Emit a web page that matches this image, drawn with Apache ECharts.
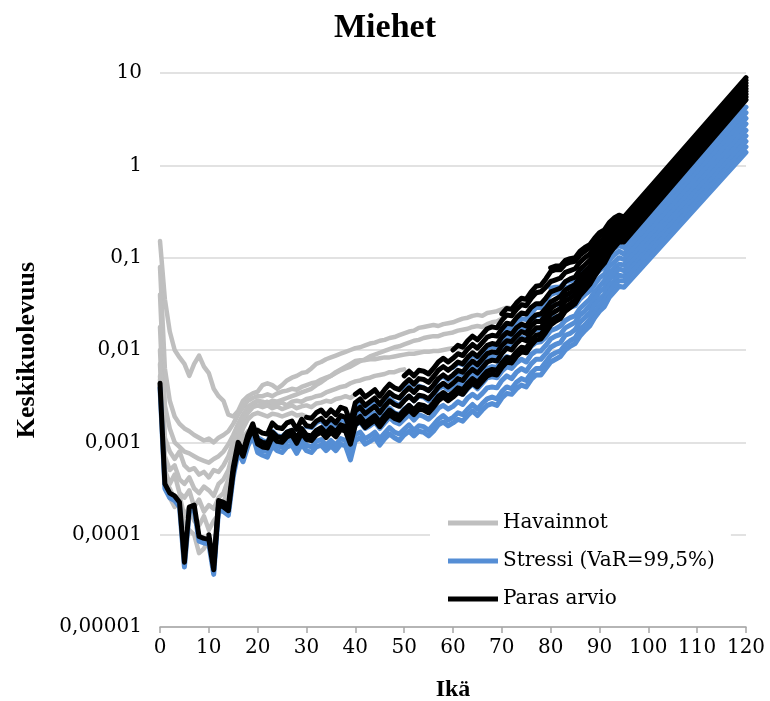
<!DOCTYPE html>
<html>
<head>
<meta charset="utf-8">
<title>Miehet – keskikuolevuus</title>
<script src="https://cdn.jsdelivr.net/npm/echarts@6/dist/echarts.min.js"></script>
<style>
  html, body { margin: 0; padding: 0; background: #fff; }
  #chart { width: 770px; height: 701px; }
</style>
</head>
<body>
<div id="chart"></div>
<script>
// Male central death rates by age, stored as log10 values.
// Each cohort: observed rates (grey) up to its current age, then the
// best-estimate projection (black) and the 99.5% VaR stress (blue) to age 120.

const cohortYears = [1935, 1945, 1955, 1965, 1975, 1985, 1995, 2005, 2015];
const startAges   = [80, 70, 60, 50, 40, 30, 20, 10, 0];

// observed, from age 0
const obs1935 = [-0.82,-1.45,-1.80,-2.00,-2.08,-2.15,-2.28,-2.15,-2.06,-2.18,
  -2.25,-2.42,-2.50,-2.55,-2.70,-2.72,-2.66,-2.55,-2.50,-2.47,
  -2.45,-2.38,-2.36,-2.38,-2.42,-2.38,-2.33,-2.30,-2.28,-2.25,
  -2.24,-2.20,-2.15,-2.13,-2.10,-2.08,-2.06,-2.04,-2.02,-2.00,
  -1.98,-1.97,-1.95,-1.93,-1.92,-1.90,-1.89,-1.87,-1.86,-1.84,
  -1.82,-1.80,-1.79,-1.76,-1.75,-1.74,-1.73,-1.74,-1.72,-1.71,
  -1.70,-1.68,-1.66,-1.65,-1.63,-1.62,-1.63,-1.60,-1.59,-1.58,
  -1.56,-1.54,-1.55,-1.51,-1.48,-1.45,-1.42,-1.39,-1.36,-1.30,-1.25];
const obs1945 = [-1.10,-2.20,-2.55,-2.72,-2.80,-2.85,-2.88,-2.92,-2.95,-2.98,
  -2.96,-3.00,-2.95,-2.92,-2.88,-2.80,-2.70,-2.62,-2.55,-2.52,
  -2.50,-2.50,-2.48,-2.50,-2.47,-2.45,-2.44,-2.42,-2.43,-2.40,
  -2.38,-2.36,-2.35,-2.32,-2.30,-2.28,-2.25,-2.22,-2.20,-2.18,
  -2.15,-2.12,-2.10,-2.07,-2.05,-2.03,-2.01,-1.99,-1.97,-1.96,
  -1.94,-1.92,-1.90,-1.89,-1.87,-1.86,-1.85,-1.85,-1.83,-1.82,
  -1.81,-1.79,-1.78,-1.77,-1.75,-1.74,-1.75,-1.72,-1.70,-1.69,-1.66];
const obs1955 = [-1.40,-2.60,-2.85,-3.00,-3.05,-3.10,-3.12,-3.15,-3.18,-3.20,
  -3.22,-3.18,-3.15,-3.10,-3.02,-2.92,-2.80,-2.70,-2.62,-2.58,
  -2.55,-2.56,-2.58,-2.55,-2.56,-2.54,-2.52,-2.50,-2.48,-2.46,
  -2.44,-2.42,-2.38,-2.35,-2.31,-2.28,-2.24,-2.21,-2.18,-2.15,
  -2.12,-2.11,-2.11,-2.10,-2.10,-2.09,-2.08,-2.08,-2.07,-2.06,
  -2.05,-2.04,-2.04,-2.03,-2.02,-2.02,-2.01,-2.01,-2.00,-1.99,-1.98];
const obs1965 = [-1.75,-2.95,-3.10,-3.18,-3.10,-3.25,-3.30,-3.28,-3.35,-3.32,
  -3.38,-3.30,-3.32,-3.25,-3.15,-3.00,-2.85,-2.72,-2.62,-2.58,
  -2.55,-2.58,-2.56,-2.60,-2.58,-2.57,-2.60,-2.56,-2.55,-2.56,
  -2.53,-2.52,-2.50,-2.49,-2.46,-2.44,-2.42,-2.40,-2.39,-2.36,
  -2.34,-2.33,-2.31,-2.30,-2.28,-2.27,-2.26,-2.24,-2.24,-2.22,-2.21];
const obs1975 = [-2.00,-3.15,-3.30,-3.25,-3.40,-3.45,-3.38,-3.50,-3.55,-3.48,
  -3.52,-3.58,-3.45,-3.40,-3.30,-3.10,-2.92,-2.78,-2.68,-2.62,
  -2.60,-2.62,-2.60,-2.63,-2.61,-2.64,-2.62,-2.60,-2.63,-2.61,
  -2.60,-2.62,-2.58,-2.57,-2.55,-2.56,-2.53,-2.52,-2.50,-2.52,-2.48];
const obs1985 = [-2.15,-3.30,-3.45,-3.35,-3.55,-3.60,-3.52,-3.70,-3.62,-3.75,
  -3.68,-3.72,-3.60,-3.55,-3.40,-3.20,-3.00,-2.85,-2.75,-2.70,
  -2.68,-2.70,-2.72,-2.69,-2.70,-2.72,-2.70,-2.68,-2.71,-2.70,-2.72];
const obs1995 = [-2.28,-3.40,-3.50,-3.62,-3.58,-3.80,-3.70,-3.85,-3.90,-3.80,
  -3.95,-3.85,-3.78,-3.65,-3.50,-3.25,-3.05,-2.95,-2.88,-2.85,-2.86];
const obs2005 = [-2.32,-3.42,-3.60,-3.70,-3.65,-3.90,-3.95,-4.00,-4.20,-4.15,-4.05];

// best estimate, from each cohort's start age to 95
const best1935 = [-1.11,-1.09,-1.09,-1.03,-1.01,-1.00,-0.93,-0.89,-0.86,-0.79,
  -0.73,-0.70,-0.62,-0.57,-0.54,-0.56];
const best1945 = [-1.61,-1.55,-1.56,-1.49,-1.44,-1.45,-1.37,-1.31,-1.30,-1.23,
  -1.15,-1.13,-1.13,-1.07,-1.05,-1.04,-0.97,-0.93,-0.89,-0.83,
  -0.77,-0.73,-0.66,-0.61,-0.57,-0.59];
const best1955 = [-2.00,-1.95,-1.97,-1.90,-1.85,-1.89,-1.83,-1.77,-1.75,-1.76,
  -1.68,-1.62,-1.63,-1.56,-1.51,-1.52,-1.44,-1.38,-1.37,-1.32,
  -1.26,-1.24,-1.22,-1.16,-1.14,-1.12,-1.05,-1.00,-0.96,-0.89,
  -0.83,-0.79,-0.71,-0.65,-0.61,-0.63];
const best1965 = [-2.28,-2.23,-2.28,-2.22,-2.23,-2.26,-2.20,-2.13,-2.09,-2.13,
  -2.09,-2.04,-2.06,-1.99,-1.94,-1.98,-1.92,-1.86,-1.84,-1.85,
  -1.77,-1.71,-1.72,-1.65,-1.60,-1.61,-1.54,-1.50,-1.50,-1.44,
  -1.37,-1.35,-1.33,-1.26,-1.23,-1.21,-1.13,-1.08,-1.03,-0.96,
  -0.89,-0.84,-0.75,-0.70,-0.65,-0.66];
const best1975 = [-2.48,-2.44,-2.51,-2.47,-2.43,-2.50,-2.43,-2.37,-2.41,-2.43,
  -2.37,-2.32,-2.37,-2.31,-2.32,-2.35,-2.29,-2.22,-2.18,-2.22,
  -2.18,-2.13,-2.15,-2.08,-2.03,-2.07,-2.01,-1.95,-1.93,-1.94,
  -1.86,-1.81,-1.83,-1.76,-1.72,-1.74,-1.67,-1.62,-1.61,-1.55,
  -1.48,-1.45,-1.42,-1.35,-1.32,-1.29,-1.21,-1.15,-1.10,-1.02,
  -0.95,-0.89,-0.80,-0.74,-0.69,-0.70];
const best1985 = [-2.73,-2.74,-2.68,-2.65,-2.71,-2.65,-2.70,-2.62,-2.64,-2.78,
  -2.57,-2.53,-2.60,-2.56,-2.52,-2.59,-2.52,-2.46,-2.50,-2.52,
  -2.46,-2.41,-2.46,-2.40,-2.41,-2.44,-2.38,-2.31,-2.27,-2.31,
  -2.27,-2.22,-2.24,-2.17,-2.12,-2.16,-2.10,-2.04,-2.02,-2.03,
  -1.95,-1.90,-1.91,-1.85,-1.80,-1.82,-1.74,-1.69,-1.69,-1.62,
  -1.55,-1.51,-1.49,-1.41,-1.38,-1.34,-1.26,-1.21,-1.15,-1.07,
  -0.99,-0.94,-0.84,-0.78,-0.72,-0.73];
const best1995 = [-2.87,-2.90,-2.91,-2.79,-2.84,-2.85,-2.79,-2.77,-2.86,-2.75,
  -2.82,-2.83,-2.77,-2.74,-2.80,-2.74,-2.79,-2.71,-2.73,-2.87,
  -2.66,-2.62,-2.69,-2.65,-2.61,-2.68,-2.61,-2.55,-2.59,-2.61,
  -2.55,-2.50,-2.55,-2.49,-2.50,-2.53,-2.47,-2.40,-2.36,-2.40,
  -2.36,-2.31,-2.33,-2.26,-2.21,-2.25,-2.19,-2.13,-2.11,-2.12,
  -2.04,-1.98,-2.00,-1.93,-1.88,-1.90,-1.82,-1.76,-1.76,-1.69,
  -1.61,-1.58,-1.55,-1.47,-1.44,-1.40,-1.31,-1.26,-1.20,-1.11,
  -1.04,-0.98,-0.88,-0.82,-0.76,-0.76];
const best2005 = [-4.00,-4.33,-3.63,-3.65,-3.69,-3.27,-3.00,-3.10,-2.92,-2.80,
  -2.97,-3.00,-3.01,-2.89,-2.94,-2.95,-2.89,-2.87,-2.96,-2.85,
  -2.92,-2.93,-2.87,-2.84,-2.90,-2.84,-2.89,-2.81,-2.83,-2.97,
  -2.76,-2.72,-2.79,-2.75,-2.71,-2.78,-2.71,-2.65,-2.69,-2.71,
  -2.65,-2.60,-2.65,-2.59,-2.60,-2.63,-2.57,-2.50,-2.46,-2.50,
  -2.46,-2.41,-2.43,-2.36,-2.31,-2.35,-2.29,-2.23,-2.21,-2.22,
  -2.14,-2.08,-2.09,-2.02,-1.97,-1.98,-1.90,-1.84,-1.83,-1.76,
  -1.68,-1.65,-1.62,-1.54,-1.50,-1.46,-1.37,-1.31,-1.25,-1.16,
  -1.08,-1.02,-0.92,-0.85,-0.79,-0.79];
const best2015 = [-2.36,-3.45,-3.55,-3.58,-3.65,-4.30,-3.70,-3.68,-4.02,-4.04,
  -4.05,-4.38,-3.68,-3.70,-3.74,-3.32,-3.05,-3.15,-2.97,-2.85,
  -3.02,-3.05,-3.06,-2.94,-2.99,-3.00,-2.94,-2.92,-3.01,-2.90,
  -2.97,-2.98,-2.92,-2.89,-2.95,-2.89,-2.94,-2.86,-2.88,-3.02,
  -2.81,-2.77,-2.84,-2.80,-2.76,-2.83,-2.76,-2.70,-2.74,-2.76,
  -2.70,-2.65,-2.70,-2.64,-2.65,-2.68,-2.62,-2.55,-2.51,-2.55,
  -2.51,-2.46,-2.48,-2.41,-2.36,-2.40,-2.34,-2.28,-2.26,-2.27,
  -2.19,-2.13,-2.14,-2.07,-2.02,-2.03,-1.95,-1.89,-1.88,-1.81,
  -1.73,-1.69,-1.66,-1.58,-1.54,-1.50,-1.41,-1.35,-1.29,-1.20,
  -1.12,-1.06,-0.96,-0.89,-0.83,-0.83];

// stress (VaR 99.5%), same ages as the best estimate
const stress1935 = [-1.33,-1.32,-1.32,-1.26,-1.25,-1.24,-1.17,-1.14,-1.11,-1.04,
  -0.99,-0.96,-0.88,-0.84,-0.81,-0.83];
const stress1945 = [-1.81,-1.76,-1.77,-1.71,-1.66,-1.67,-1.60,-1.54,-1.54,-1.47,
  -1.40,-1.38,-1.38,-1.33,-1.31,-1.30,-1.24,-1.20,-1.17,-1.11,
  -1.05,-1.02,-0.95,-0.90,-0.87,-0.89];
const stress1955 = [-2.19,-2.14,-2.16,-2.10,-2.05,-2.09,-2.04,-1.98,-1.96,-1.98,
  -1.90,-1.85,-1.86,-1.80,-1.75,-1.77,-1.69,-1.63,-1.63,-1.58,
  -1.53,-1.51,-1.50,-1.44,-1.42,-1.41,-1.34,-1.30,-1.26,-1.19,
  -1.14,-1.10,-1.03,-0.97,-0.93,-0.96];
const stress1965 = [-2.44,-2.39,-2.45,-2.39,-2.41,-2.44,-2.39,-2.32,-2.28,-2.33,
  -2.29,-2.25,-2.27,-2.20,-2.16,-2.20,-2.15,-2.09,-2.07,-2.09,
  -2.01,-1.95,-1.97,-1.90,-1.86,-1.88,-1.81,-1.78,-1.78,-1.73,
  -1.66,-1.64,-1.63,-1.56,-1.54,-1.52,-1.45,-1.40,-1.36,-1.29,
  -1.22,-1.18,-1.09,-1.05,-1.00,-1.02];
const stress1975 = [-2.61,-2.58,-2.65,-2.61,-2.58,-2.65,-2.59,-2.53,-2.57,-2.60,
  -2.54,-2.50,-2.55,-2.50,-2.51,-2.55,-2.49,-2.42,-2.39,-2.43,
  -2.40,-2.35,-2.38,-2.31,-2.26,-2.31,-2.25,-2.20,-2.18,-2.19,
  -2.12,-2.07,-2.10,-2.03,-2.00,-2.03,-1.96,-1.92,-1.91,-1.86,
  -1.79,-1.77,-1.74,-1.68,-1.65,-1.63,-1.55,-1.50,-1.45,-1.37,
  -1.31,-1.25,-1.17,-1.11,-1.07,-1.08];
const stress1985 = [-2.83,-2.84,-2.79,-2.76,-2.83,-2.77,-2.83,-2.75,-2.77,-2.92,
  -2.71,-2.68,-2.75,-2.71,-2.68,-2.75,-2.69,-2.63,-2.68,-2.70,
  -2.64,-2.60,-2.65,-2.60,-2.61,-2.65,-2.59,-2.53,-2.49,-2.54,
  -2.50,-2.46,-2.48,-2.42,-2.37,-2.42,-2.36,-2.30,-2.29,-2.30,
  -2.23,-2.18,-2.20,-2.14,-2.10,-2.13,-2.05,-2.01,-2.01,-1.95,
  -1.88,-1.85,-1.83,-1.76,-1.73,-1.70,-1.62,-1.58,-1.52,-1.45,
  -1.37,-1.33,-1.23,-1.18,-1.12,-1.14];
const stress1995 = [-2.95,-2.98,-3.00,-2.88,-2.93,-2.94,-2.89,-2.87,-2.96,-2.85,
  -2.93,-2.94,-2.89,-2.86,-2.93,-2.87,-2.92,-2.85,-2.87,-3.02,
  -2.81,-2.78,-2.85,-2.82,-2.78,-2.85,-2.79,-2.73,-2.78,-2.80,
  -2.75,-2.70,-2.76,-2.70,-2.72,-2.75,-2.70,-2.63,-2.60,-2.64,
  -2.61,-2.56,-2.59,-2.52,-2.48,-2.52,-2.47,-2.41,-2.40,-2.41,
  -2.33,-2.28,-2.31,-2.24,-2.20,-2.23,-2.15,-2.10,-2.10,-2.04,
  -1.97,-1.94,-1.92,-1.84,-1.82,-1.78,-1.70,-1.65,-1.60,-1.51,
  -1.45,-1.40,-1.30,-1.25,-1.19,-1.20];
const stress2005 = [-4.05,-4.38,-3.68,-3.70,-3.74,-3.32,-3.05,-3.16,-2.99,-2.88,
  -3.06,-3.09,-3.10,-2.98,-3.04,-3.05,-2.99,-2.98,-3.07,-2.96,
  -3.03,-3.05,-2.99,-2.97,-3.03,-2.98,-3.03,-2.96,-2.98,-3.13,
  -2.92,-2.89,-2.96,-2.93,-2.89,-2.96,-2.90,-2.84,-2.89,-2.91,
  -2.86,-2.81,-2.87,-2.82,-2.83,-2.87,-2.81,-2.75,-2.71,-2.76,
  -2.73,-2.68,-2.70,-2.64,-2.59,-2.64,-2.58,-2.53,-2.51,-2.53,
  -2.45,-2.40,-2.42,-2.35,-2.31,-2.33,-2.25,-2.20,-2.20,-2.13,
  -2.06,-2.03,-2.01,-1.94,-1.90,-1.87,-1.78,-1.73,-1.67,-1.59,
  -1.52,-1.46,-1.37,-1.30,-1.25,-1.25];
const stress2015 = [-2.41,-3.50,-3.60,-3.63,-3.70,-4.35,-3.75,-3.73,-4.07,-4.09,
  -4.10,-4.43,-3.73,-3.75,-3.79,-3.37,-3.11,-3.21,-3.04,-2.93,
  -3.11,-3.14,-3.16,-3.04,-3.09,-3.11,-3.05,-3.03,-3.12,-3.02,
  -3.09,-3.11,-3.05,-3.03,-3.09,-3.04,-3.09,-3.02,-3.04,-3.19,
  -2.98,-2.95,-3.02,-2.99,-2.95,-3.03,-2.96,-2.91,-2.95,-2.98,
  -2.92,-2.88,-2.93,-2.88,-2.89,-2.93,-2.88,-2.81,-2.78,-2.82,
  -2.79,-2.75,-2.77,-2.71,-2.66,-2.71,-2.65,-2.60,-2.58,-2.60,
  -2.52,-2.47,-2.48,-2.42,-2.38,-2.40,-2.32,-2.27,-2.27,-2.20,
  -2.13,-2.10,-2.07,-2.00,-1.96,-1.93,-1.85,-1.79,-1.74,-1.65,
  -1.58,-1.53,-1.43,-1.37,-1.31,-1.32];

// values at age 120 (log10)
const bestAt120   = [0.95, 0.92, 0.89, 0.86, 0.83, 0.80, 0.77, 0.74, 0.71];
const stressAt120 = [0.63, 0.57, 0.51, 0.45, 0.38, 0.32, 0.26, 0.20, 0.14];

const observedLines = [obs1935, obs1945, obs1955, obs1965, obs1975, obs1985, obs1995, obs2005];
const bestLines   = [best1935, best1945, best1955, best1965, best1975, best1985, best1995, best2005, best2015];
const stressLines = [stress1935, stress1945, stress1955, stress1965, stress1975, stress1985, stress1995, stress2005, stress2015];

const xTicks = [0, 10, 20, 30, 40, 50, 60, 70, 80, 90, 100, 110, 120];
const yTickLabels = ['0,00001', '0,0001', '0,001', '0,01', '0,1', '1', '10'];

const NAME_OBS = 'Havainnot';
const NAME_STRESS = 'Stressi (VaR=99,5%)';
const NAME_BEST = 'Paras arvio';
const COLOR_OBS = '#bfbfbf';
const COLOR_STRESS = '#558ed5';
const COLOR_BEST = '#000000';

function toPoints(firstAge, logs, logAt120) {
  const pts = logs.map((v, i) => [firstAge + i, Math.pow(10, v)]);
  if (logAt120 !== undefined) pts.push([120, Math.pow(10, logAt120)]);
  return pts;
}

function lineSeries(name, color, width, data) {
  return {
    name: name,
    type: 'line',
    data: data,
    showSymbol: false,
    symbol: 'none',
    silent: true,
    animation: false,
    itemStyle: { color: color },
    lineStyle: { color: color, width: width, join: 'round', cap: 'round' },
    emphasis: { disabled: true }
  };
}

const series = [];
observedLines.forEach((logs) =>
  series.push(lineSeries(NAME_OBS, COLOR_OBS, 4.5, toPoints(0, logs))));
stressLines.forEach((logs, k) =>
  series.push(lineSeries(NAME_STRESS, COLOR_STRESS, 5, toPoints(startAges[k], logs, stressAt120[k]))));
bestLines.forEach((logs, k) =>
  series.push(lineSeries(NAME_BEST, COLOR_BEST, 5, toPoints(startAges[k], logs, bestAt120[k]))));

const serif = 'DejaVu Serif';
const serifBold = 'Liberation Serif';

const chart = echarts.init(document.getElementById('chart'), null, { renderer: 'canvas' });
chart.setOption({
  animation: false,
  backgroundColor: '#ffffff',
  title: {
    text: 'Miehet',
    left: 'center',
    top: 6,
    textStyle: { fontFamily: serifBold, fontWeight: 'bold', fontSize: 34, color: '#000' }
  },
  legend: {
    data: [NAME_OBS, NAME_STRESS, NAME_BEST],
    orient: 'vertical',
    left: 430,
    top: 500,
    padding: [11, 16, 10, 18],
    itemWidth: 50,
    itemHeight: 5,
    itemGap: 14,
    icon: 'rect',
    backgroundColor: '#ffffff',
    borderRadius: 4,
    textStyle: { fontFamily: serif, fontSize: 20, color: '#000', lineHeight: 24 }
  },
  grid: { left: 160, right: 24, top: 73, bottom: 74, containLabel: false, outerBoundsMode: 'none' },
  xAxis: {
    type: 'value',
    min: xTicks[0],
    max: xTicks[xTicks.length - 1],
    interval: 10,
    name: 'Ikä',
    nameLocation: 'middle',
    nameGap: 51,
    nameTextStyle: { fontFamily: serifBold, fontWeight: 'bold', fontSize: 24, color: '#000' },
    axisLine: { show: true, lineStyle: { color: '#a6a6a6', width: 1.5 } },
    axisTick: { show: true, length: 6, lineStyle: { color: '#a6a6a6', width: 1.5 } },
    axisLabel: { fontFamily: serif, fontSize: 20, color: '#000', margin: 11 },
    splitLine: { show: false }
  },
  yAxis: {
    type: 'log',
    logBase: 10,
    min: 0.00001,
    max: 10,
    name: 'Keskikuolevuus',
    nameLocation: 'middle',
    nameRotate: 90,
    nameGap: 120,
    nameTextStyle: { fontFamily: serifBold, fontWeight: 'bold', fontSize: 26, color: '#000' },
    axisLine: { show: false },
    axisTick: { show: false },
    axisLabel: {
      fontFamily: serif,
      fontSize: 20,
      color: '#000',
      margin: 18,
      formatter: (v) => yTickLabels[Math.round(Math.log10(v)) + 5]
    },
    splitLine: { show: true, lineStyle: { color: '#d9d9d9', width: 1.5 } }
  },
  series: series
});
</script>
</body>
</html>
